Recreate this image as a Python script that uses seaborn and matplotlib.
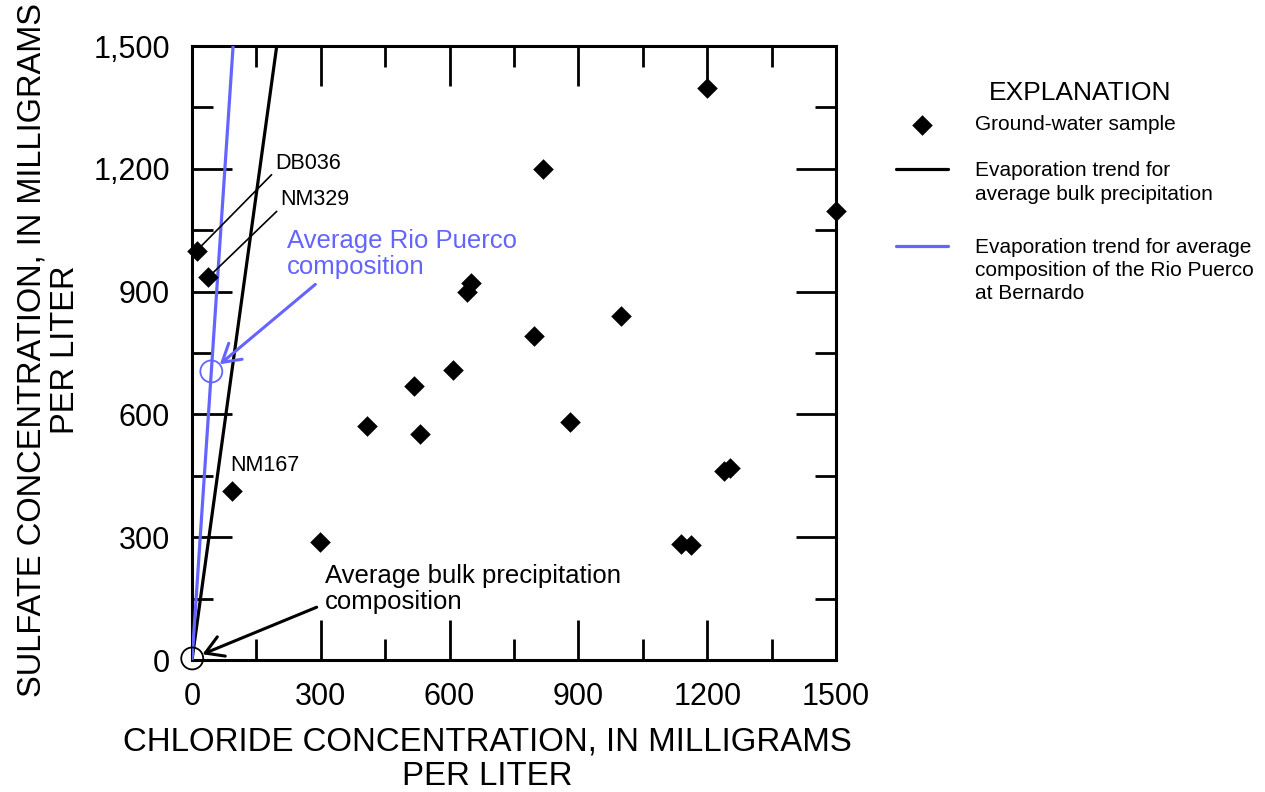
import matplotlib
matplotlib.use("Agg")
import matplotlib.pyplot as plt
from matplotlib.ticker import MultipleLocator, FuncFormatter
from matplotlib.lines import Line2D
import pandas as pd
import seaborn as sns

# Ground-water samples (mg/L)
chloride = [11, 38, 94, 298, 408, 518, 531, 609, 640, 649,
            797, 817, 880, 999, 1200, 1500, 1240, 1252, 1138, 1162]
sulfate = [1000, 935, 413, 288, 572, 670, 553, 708, 898, 920,
           792, 1200, 582, 840, 1397, 1098, 462, 470, 283, 281]

# Labelled wells (index into the sample arrays)
well_names = ["DB036", "NM329", "NM167"]
well_index = [0, 1, 2]

# Average end-member compositions (mg/L)
bulk_cl, bulk_so4 = 0.5, 3.8      # average bulk precipitation
rio_cl, rio_so4 = 45, 705         # average Rio Puerco at Bernardo

axis_max = 1500
BLUE = "#6464ff"

sns.set_theme(style="ticks")
plt.rcParams["font.family"] = ["Liberation Sans", "DejaVu Sans"]

fig = plt.figure(figsize=(12.65, 7.92), dpi=100)
ax = fig.add_axes([192 / 1265, 132 / 792, 644 / 1265, 614 / 792])

df = pd.DataFrame({"chloride": chloride, "sulfate": sulfate})
sns.scatterplot(data=df, x="chloride", y="sulfate", marker="D", s=110,
                color="black", linewidth=0, ax=ax, clip_on=False, zorder=5)
samples = ax.collections[0]

# Evaporation trends: concentrations scale together from each composition
bulk_line, = ax.plot([0, axis_max * bulk_cl / bulk_so4], [0, axis_max],
                     color="black", lw=2.3, zorder=3)
rio_line, = ax.plot([0, axis_max * rio_cl / rio_so4], [0, axis_max],
                    color=BLUE, lw=2.3, zorder=3)

# End-member compositions
ax.scatter([bulk_cl], [bulk_so4], s=250, facecolors="none",
           edgecolors="black", linewidths=1.3, clip_on=False, zorder=6)
ax.scatter([rio_cl], [rio_so4], s=250, facecolors="none",
           edgecolors=BLUE, linewidths=1.3, clip_on=False, zorder=6)

ax.set_xlim(0, axis_max)
ax.set_ylim(0, axis_max)

for side in ax.spines.values():
    side.set_linewidth(2.2)
    side.set_color("black")

ax.xaxis.set_major_locator(MultipleLocator(300))
ax.xaxis.set_minor_locator(MultipleLocator(150))
ax.yaxis.set_major_locator(MultipleLocator(300))
ax.yaxis.set_minor_locator(MultipleLocator(150))
ax.xaxis.set_major_formatter(FuncFormatter(lambda v, p: f"{v:.0f}"))
ax.yaxis.set_major_formatter(FuncFormatter(lambda v, p: f"{v:,.0f}"))
ax.tick_params(which="both", direction="in", top=True, right=True,
               bottom=True, left=True, width=2, color="black",
               labelsize=22, pad=16, labelcolor="black")
ax.tick_params(which="major", length=29)
ax.tick_params(which="minor", length=15)

ax.set_xlabel("CHLORIDE CONCENTRATION, IN MILLIGRAMS\nPER LITER",
              fontsize=23.8, linespacing=1.14, color="black")
ax.xaxis.set_label_coords(0.458, -0.161)
ax.xaxis.label.set_va("center")
ax.set_ylabel("SULFATE CONCENTRATION, IN MILLIGRAMS\nPER LITER",
              fontsize=23.5, linespacing=1.12, color="black")
ax.yaxis.set_label_coords(-0.222, 0.505)
ax.yaxis.label.set_va("center")

# Well labels
leader_text = {"DB036": (193, 1214), "NM329": (205, 1124)}
for name, i in zip(well_names, well_index):
    if name in leader_text:
        ax.annotate(name, xy=(chloride[i], sulfate[i]), xytext=leader_text[name],
                    ha="left", va="center", fontsize=15.5, color="black",
                    arrowprops=dict(arrowstyle="-", color="black", lw=1.2,
                                    shrinkA=0, shrinkB=5, relpos=(0.03, 0.2)))
    else:
        ax.text(88, 474, name, ha="left", va="center", fontsize=15.5,
                color="black")

ax.annotate("Average Rio Puerco\ncomposition", xy=(rio_cl, rio_so4),
            xytext=(221, 991), ha="left", va="center", fontsize=18.5,
            color=BLUE, linespacing=1.1,
            arrowprops=dict(arrowstyle="->,head_length=0.5,head_width=0.3",
                            color=BLUE, lw=2.2, shrinkA=2, shrinkB=8,
                            relpos=(0.15, 0), mutation_scale=25))
ax.annotate("Average bulk precipitation\ncomposition", xy=(bulk_cl, bulk_so4),
            xytext=(310, 174), ha="left", va="center", fontsize=18.5,
            color="black", linespacing=1.1, annotation_clip=False,
            arrowprops=dict(arrowstyle="->,head_length=0.5,head_width=0.3",
                            color="black", lw=2.2, shrinkA=4, shrinkB=8,
                            relpos=(0, 0.2), mutation_scale=25))

# Explanation
blank = Line2D([], [], linestyle="none")
handles = [samples, blank, bulk_line, blank, blank, rio_line, blank, blank]
labels = ["Ground-water sample", "",
          "Evaporation trend for", "average bulk precipitation", "",
          "Evaporation trend for average", "composition of the Rio Puerco",
          "at Bernardo"]
leg = fig.legend(handles, labels, loc="upper left",
                 bbox_to_anchor=(896 / 1265, 1 - 115 / 792), frameon=False,
                 fontsize=15, handlelength=2.5, handletextpad=1.3,
                 labelspacing=0.2, borderpad=0, borderaxespad=0,
                 scatterpoints=1, labelcolor="black")
# slightly wider gap before the last entry
leg.get_texts()[4].set_fontsize(19.5)
fig.text(1080 / 1265, 1 - 93 / 792, "EXPLANATION", ha="center",
         va="center", fontsize=19, color="black")

fig.savefig("out.png", dpi=100, facecolor="white")
